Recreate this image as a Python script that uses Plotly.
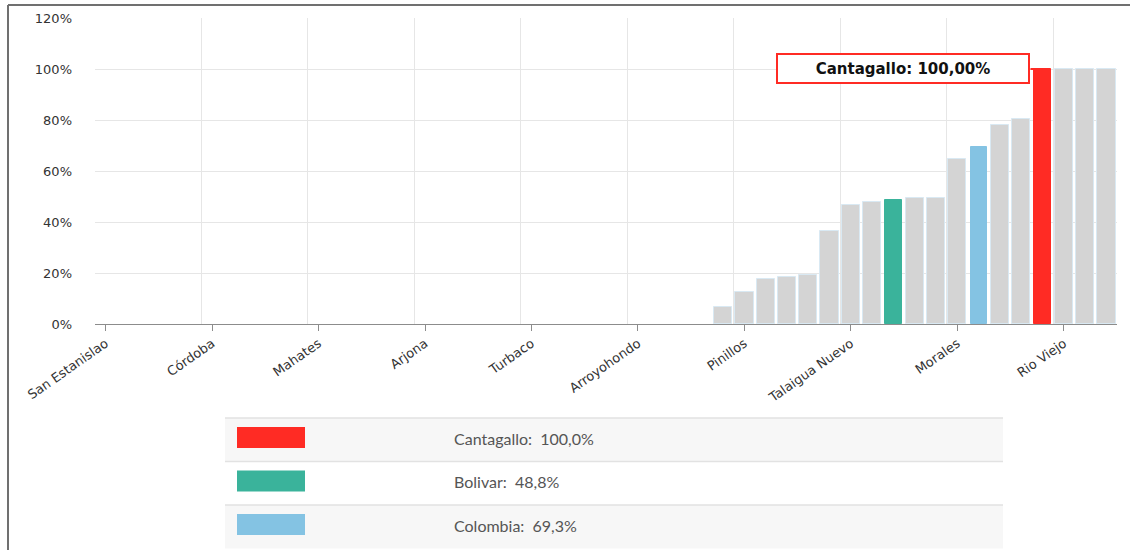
import plotly.graph_objects as go

# ---------------- data ----------------
categories = [
    "San Estanislao", "Achí", "Altos del Rosario", "Arenal", "Barranco de Loba",
    "Córdoba", "Calamar", "Cartagena", "Cicuco", "Clemencia",
    "Mahates", "El Carmen de Bolívar", "El Guamo", "El Peñón", "Hatillo de Loba",
    "Arjona", "Magangué", "Margarita", "María La Baja", "Mompós",
    "Turbaco", "Montecristo", "Norosí", "Regidor", "San Cristóbal",
    "Arroyohondo", "San Fernando", "San Jacinto", "San Jacinto del Cauca", "San Juan Nepomuceno",
    "Pinillos", "San Martín de Loba", "San Pablo", "Santa Catalina", "Santa Rosa",
    "Talaigua Nuevo", "Santa Rosa del Sur", "Bolivar", "Simití", "Soplaviento",
    "Morales", "Colombia", "Tiquisio", "Turbaná", "Cantagallo",
    "Rio Viejo", "Villanueva", "Zambrano",
]
values = [
    0, 0, 0, 0, 0,
    0, 0, 0, 0, 0,
    0, 0, 0, 0, 0,
    0, 0, 0, 0, 0,
    0, 0, 0, 0, 0,
    0, 0, 0, 0, 6.6,
    12.7, 17.7, 18.5, 19.2, 36.6,
    46.5, 48.0, 48.8, 49.3, 49.3,
    64.6, 69.3, 78.1, 80.4, 100.0,
    100.0, 100.0, 100.0,
]
tick_labels = ["San Estanislao", "Córdoba", "Mahates", "Arjona", "Turbaco",
               "Arroyohondo", "Pinillos", "Talaigua Nuevo", "Morales", "Rio Viejo"]
y_ticks = [0, 20, 40, 60, 80, 100, 120]

highlight_names = ["Cantagallo", "Bolivar", "Colombia"]
highlight_values = [100.0, 48.8, 69.3]
highlight_colors = ["#ff2b24", "#3ab39b", "#84c3e3"]
tooltip_name = "Cantagallo"

# ---------------- styling ----------------
GREY = "#d4d4d4"
hl_color = dict(zip(highlight_names, highlight_colors))
x_idx = list(range(len(categories)))
bar_colors = [hl_color.get(c, GREY) for c in categories]
bar_widths = [0.76 if c in hl_color else 0.86 for c in categories]
line_colors = [hl_color.get(c, "#d9e9f3") for c in categories]
line_widths = [1 if v > 0 else 0 for v in values]

fig = go.Figure()
fig.add_trace(go.Bar(
    x=x_idx, y=values, width=bar_widths,
    marker=dict(color=bar_colors, line=dict(color=line_colors, width=line_widths)),
    hoverinfo="skip", showlegend=False,
))

tick_idx = [categories.index(t) for t in tick_labels]
boundaries = [-0.5] + [i - 0.5 for i in tick_idx if i > 0]

fig.update_layout(
    width=1130, height=550,
    margin=dict(l=95, r=13, t=18, b=226),
    paper_bgcolor="white", plot_bgcolor="white",
    bargap=0,
    font=dict(family="Verdana, DejaVu Sans", size=13, color="#333"),
    xaxis=dict(
        range=[-0.5, len(categories) - 0.5],
        tickmode="array", tickvals=tick_idx, ticktext=tick_labels,
        tickangle=-35, showgrid=False, zeroline=False,
        showline=True, linecolor="#8c8c8c", linewidth=1,
        ticks="outside", ticklen=6, tickcolor="#8c8c8c",
        tickfont=dict(family="Verdana, DejaVu Sans", size=13, color="#333"),
        minor=dict(tickmode="array", tickvals=boundaries, showgrid=True,
                   gridcolor="#e6e6e6", gridwidth=1, ticks=""),
        fixedrange=True,
    ),
    yaxis=dict(
        range=[0, 120], tickmode="array", tickvals=y_ticks,
        ticktext=["%d%%" % v for v in y_ticks],
        showgrid=True, gridcolor="#e6e6e6", gridwidth=1,
        zeroline=False, showline=False, ticks="",
        ticklabelstandoff=22,
        tickfont=dict(family="Verdana, DejaVu Sans", size=13, color="#333"),
        fixedrange=True,
    ),
)

# tooltip callout
ti = categories.index(tooltip_name)
fig.add_annotation(
    x=ti, y=values[ti], xref="x", yref="y",
    text="<b>%s: %s%%</b>" % (tooltip_name, ("%.2f" % values[ti]).replace(".", ",")),
    showarrow=True, ax=-12, ay=0, xanchor="right", yanchor="middle",
    arrowhead=0, arrowwidth=2, arrowcolor="#ff2b24", standoff=0,
    bgcolor="white", bordercolor="#ff2b24", borderwidth=2, borderpad=5,
    width=240, height=17, align="center",
    font=dict(family="Verdana, DejaVu Sans", size=15, color="#111"),
)

# ---------------- custom legend table ----------------
PW, PH = 1022.0, 306.0
def px_x(p):
    return (p - 95) / PW
def px_y(p):
    return (324 - p) / PH

row_top = 418
row_h = 43.5
for k, (nm, val, col) in enumerate(zip(highlight_names, highlight_values, highlight_colors)):
    y0 = row_top + k * row_h
    y1 = y0 + row_h
    fig.add_shape(type="rect", xref="paper", yref="paper",
                  x0=px_x(225), x1=px_x(1003), y0=px_y(y1), y1=px_y(y0),
                  fillcolor="#f7f7f7" if k % 2 == 0 else "white",
                  line=dict(width=0), layer="below")
    fig.add_shape(type="line", xref="paper", yref="paper",
                  x0=px_x(225), x1=px_x(1003), y0=px_y(y0), y1=px_y(y0),
                  line=dict(color="#e2e2e2", width=1.5))
    fig.add_shape(type="rect", xref="paper", yref="paper",
                  x0=px_x(237), x1=px_x(305), y0=px_y(y0 + 30), y1=px_y(y0 + 9),
                  fillcolor=col, line=dict(width=0))
    fig.add_annotation(xref="paper", yref="paper", x=px_x(452), y=px_y(y0 + 20),
                       xanchor="left", yanchor="middle", showarrow=False,
                       text="%s:  %s%%" % (nm, ("%.1f" % val).replace(".", ",")),
                       font=dict(family="Lato, Noto Sans", size=16, color="#555"))

# outer frame (left and top edges)
fig.add_shape(type="line", xref="paper", yref="paper",
              x0=px_x(8), x1=px_x(8), y0=px_y(550), y1=px_y(5),
              line=dict(color="#707070", width=2))
fig.add_shape(type="line", xref="paper", yref="paper",
              x0=px_x(8), x1=px_x(1130), y0=px_y(5), y1=px_y(5),
              line=dict(color="#707070", width=2))

fig.write_html("out.html", config={"displayModeBar": False},
               post_script="document.body.style.margin='0';")
